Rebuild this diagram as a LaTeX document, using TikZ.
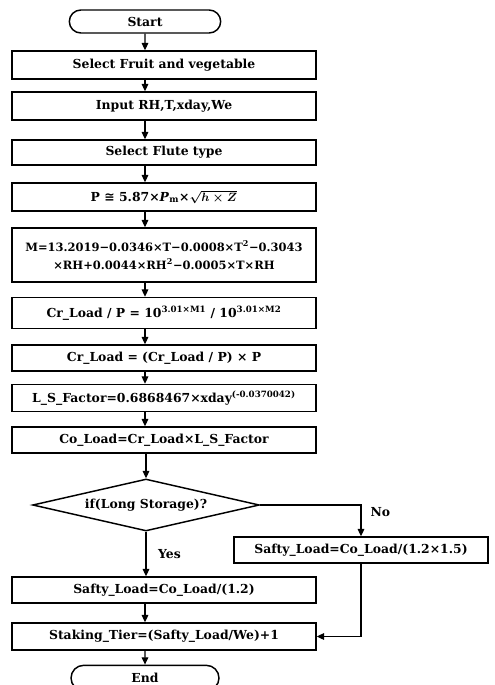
\documentclass[tikz,border=0pt]{standalone}
\usepackage{fontspec}
\setmainfont{DejaVu Serif}
\newfontfamily\symfont{DejaVu Sans}
\usepackage{tikz}
\usetikzlibrary{arrows.meta,shapes.geometric,shapes.misc}

\newcommand{\chartfont}{\fontsize{9.3}{13}\selectfont\bfseries\boldmath}
\tikzset{
  procbox/.style={draw, line width=1.1pt, rectangle, inner sep=0.75pt, align=center, font=\chartfont},
  termbox/.style={draw, line width=1.1pt, rounded rectangle, inner sep=0.75pt, font=\chartfont},
  decbox/.style={draw, line width=1.1pt, diamond, inner sep=0pt, aspect=4.3, font=\chartfont},
  flowline/.style={line width=0.8pt, -{Triangle[length=5.5pt,width=5pt]}},
  yesno/.style={inner sep=0.75pt, font=\chartfont},
}

\begin{document}
\begin{tikzpicture}[x=0.75pt,y=0.75pt,yscale=-1,xscale=1]
\useasboundingbox (0,0) rectangle (495,685);

%Flowchart: Terminator
\draw (145,21.5) node (start) [termbox, minimum width=115pt, minimum height=17.25pt] {Start};
%Flowchart: Process
\draw (164,65) node (fruit) [procbox, minimum width=228pt, minimum height=21pt] {Select Fruit and vegetable};
%Flowchart: Process
\draw (164,106) node (input) [procbox, minimum width=228pt, minimum height=21pt] {Input RH,T,xday,We};
%Flowchart: Process
\draw (164,152.5) node (flute) [procbox, minimum width=228pt, minimum height=18.75pt] {Select Flute type};
%Flowchart: Process
\draw (164,197) node (pval) [procbox, minimum width=228pt, minimum height=21pt] {P {\symfont\bfseries ≅} 5.87×\textit{P}\textsubscript{m}×$\sqrt{h\times Z}$};
%Flowchart: Process
\draw (164,255) node (mval) [procbox, minimum width=228pt, minimum height=40.5pt, font=\fontsize{8.6}{14}\selectfont\bfseries] {M=13.2019−0.0346×T−0.0008×T\textsuperscript{2}−0.3043\\×RH+0.0044×RH\textsuperscript{2}−0.0005×T×RH};
%Flowchart: Process
\draw (164,313) node (ratio) [procbox, minimum width=228pt, minimum height=23.25pt] {Cr\_Load / P = 10\textsuperscript{3.01×M1} / 10\textsuperscript{3.01×M2}};
%Flowchart: Process
\draw (164,358) node (crload) [procbox, minimum width=228pt, minimum height=19.5pt] {Cr\_Load = (Cr\_Load / P) × P};
%Flowchart: Process
\draw (164,398) node (lsfac) [procbox, minimum width=228pt, minimum height=20.25pt] {L\_S\_Factor=0.6868467×xday\textsuperscript{(-0.0370042)}};
%Flowchart: Process
\draw (164,440) node (coload) [procbox, minimum width=228pt, minimum height=19.5pt] {Co\_Load=Cr\_Load×L\_S\_Factor};
%Flowchart: Decision
\draw (146,505) node (storage) [decbox, minimum width=170pt, minimum height=39pt] {if(Long Storage)?};
%Flowchart: Process
\draw (361,550) node (saftyr) [procbox, minimum width=190.5pt, minimum height=19.5pt] {Safty\_Load=Co\_Load/(1.2×1.5)};
%Flowchart: Process
\draw (164,590) node (saftyl) [procbox, minimum width=228pt, minimum height=19.5pt] {Safty\_Load=Co\_Load/(1.2)};
%Flowchart: Process
\draw (164,636.5) node (tier) [procbox, minimum width=228pt, minimum height=20.25pt] {Staking\_Tier=(Safty\_Load/We)+1};
%Flowchart: Terminator
\draw (145,678) node (finish) [termbox, minimum width=112.5pt, minimum height=19pt] {End};

%Straight Lines
\draw [flowline] (start) -- (fruit.north -| start);
\draw [flowline] (fruit.south -| start) -- (input.north -| start);
\draw [flowline] (input.south -| start) -- (flute.north -| start);
\draw [flowline] (flute.south -| start) -- (pval.north -| start);
\draw [flowline] (pval.south -| start) -- (mval.north -| start);
\draw [flowline] (mval.south -| start) -- (ratio.north -| start);
\draw [flowline] (ratio.south -| start) -- (crload.north -| start);
\draw [flowline] (crload.south -| start) -- (lsfac.north -| start);
\draw [flowline] (lsfac.south -| start) -- (coload.north -| start);
\draw [flowline] (coload.south -| storage) -- (storage.north);
\draw [flowline] (storage.south) -- node [yesno, right, xshift=8pt] {Yes} (saftyl.north -| storage);
\draw [flowline] (storage.east) -| node [yesno, pos=0.5, anchor=north west, xshift=6pt, yshift=-1pt] {No} (saftyr.north);
\draw [flowline] (saftyl.south -| start) -- (tier.north -| start);
\draw [flowline] (saftyr.south) |- (tier.east);
\draw [flowline] (tier.south -| start) -- (finish);

\end{tikzpicture}
\end{document}
